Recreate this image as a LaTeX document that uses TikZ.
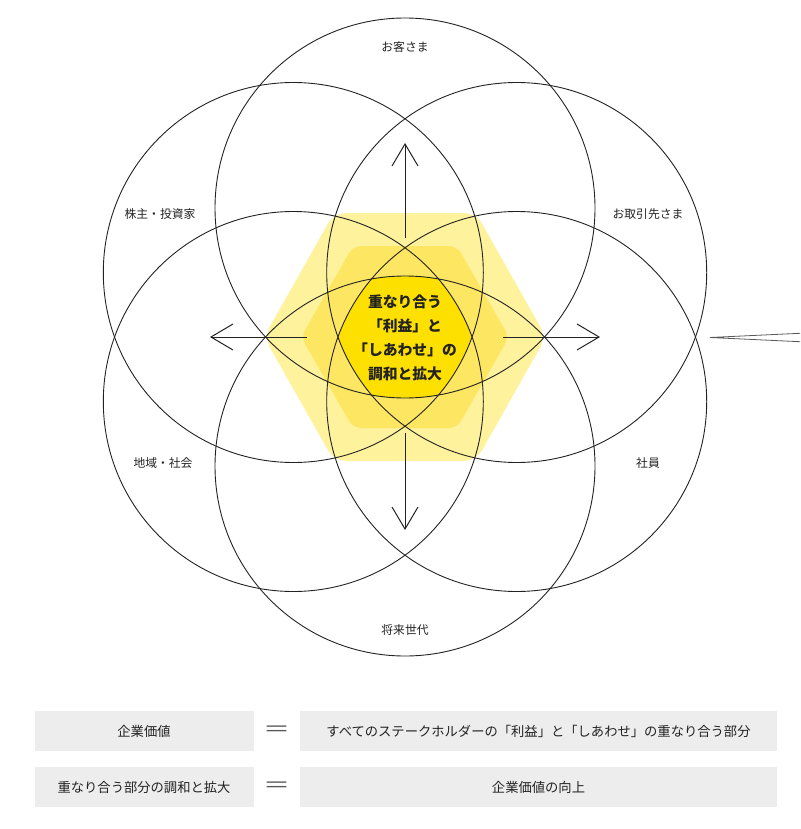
\documentclass[tikz,border=0pt]{standalone}
\usepackage{fontspec}
\setmainfont{Noto Sans CJK JP}
\usetikzlibrary{arrows.meta}
\definecolor{hexouter}{HTML}{FEF29C}
\definecolor{hexmid}{HTML}{FDE762}
\definecolor{hexinner}{HTML}{FDDF00}
\definecolor{boxgray}{HTML}{EDEDED}
\definecolor{ink}{HTML}{222222}
\tikzset{
  ring/.style={circle, draw=ink, line width=0.9pt, minimum size=380pt, inner sep=0pt},
  stakeholder/.style={font=\fontsize{11.8pt}{14pt}\selectfont, text=ink, inner sep=0pt},
  growarrow/.style={draw=ink, line width=1pt, -{Straight Barb[length=22pt, width=26pt, line width=1pt]}},
  graybox/.style={fill=boxgray, draw=none, minimum height=40pt, inner sep=0pt, font=\fontsize{13.3pt}{16pt}\selectfont, text=ink},
  eqsign/.style={font=\fontsize{20pt}{22pt}\selectfont, text=ink!75, inner sep=0pt, xscale=1.35}
}
\begin{document}
\begin{tikzpicture}[x=1pt, y=-1pt]
\useasboundingbox (0,0) rectangle (800,829);
% yellow hexagons
\fill[hexouter, rounded corners=12pt] (264,337) -- (334,213) -- (476,213) -- (546,337) -- (476,461) -- (334,461) -- cycle;
\fill[hexmid, rounded corners=8pt] (301,337) -- (353,246) -- (457,246) -- (509,337) -- (457,428) -- (353,428) -- cycle;
% inner region: intersection of all six circles
\begin{scope}
  \clip (405,208) circle (190);
  \clip (516.7,272.5) circle (190);
  \clip (516.7,401.5) circle (190);
  \clip (405,466) circle (190);
  \clip (293.3,401.5) circle (190);
  \clip (293.3,272.5) circle (190);
  \fill[hexinner] (200,200) rectangle (610,480);
\end{scope}
% circles
\node[ring] (cTop) at (405,208) {};
\node[ring] (cUR) at (516.7,272.5) {};
\node[ring] (cLR) at (516.7,401.5) {};
\node[ring] (cBot) at (405,466) {};
\node[ring] (cLL) at (293.3,401.5) {};
\node[ring] (cUL) at (293.3,272.5) {};
% arrows
\coordinate (aUpS) at (405,238); \coordinate (aUpE) at (405,143);
\coordinate (aDnS) at (405,433); \coordinate (aDnE) at (405,530);
\coordinate (aLtS) at (307,337); \coordinate (aLtE) at (210,337);
\coordinate (aRtS) at (503,337); \coordinate (aRtE) at (600,337);
\draw[growarrow] (aUpS) -- (aUpE);
\draw[growarrow] (aDnS) -- (aDnE);
\draw[growarrow] (aLtS) -- (aLtE);
\draw[growarrow] (aRtS) -- (aRtE);
% center text
\node[font=\bfseries\fontsize{14.8pt}{24pt}\selectfont, text=ink, align=center, inner sep=0pt] (core) at (405,338)
  {重なり合う\\「利益」と\\「しあわせ」の\\調和と拡大};
% stakeholder labels
\node[stakeholder] (lTop) at (405,47) {お客さま};
\node[stakeholder] (lUL) at (160,214) {株主・投資家};
\node[stakeholder] (lUR) at (648,214) {お取引先さま};
\node[stakeholder] (lLL) at (163,463) {地域・社会};
\node[stakeholder] (lLR) at (648,463) {社員};
\node[stakeholder] (lBot) at (405,630) {将来世代};
% pointer wedge at right edge
\coordinate (wTip) at (710,337.5);
\coordinate (wA) at (800,333.3);
\coordinate (wB) at (800,341.7);
\draw[ink!75, line width=0.8pt] (wA) -- (wTip) -- (wB);
% bottom equations
\node[graybox, minimum width=219pt] (b1) at (144,731) {企業価値};
\node[eqsign] (e1) at (277,731) {＝};
\node[graybox, minimum width=477pt] (b2) at (538.5,731) {すべてのステークホルダーの「利益」と「しあわせ」の重なり合う部分};
\node[graybox, minimum width=219pt] (b3) at (144,787) {重なり合う部分の調和と拡大};
\node[eqsign] (e2) at (277,787) {＝};
\node[graybox, minimum width=477pt] (b4) at (538.5,787) {企業価値の向上};
\end{tikzpicture}
\end{document}
